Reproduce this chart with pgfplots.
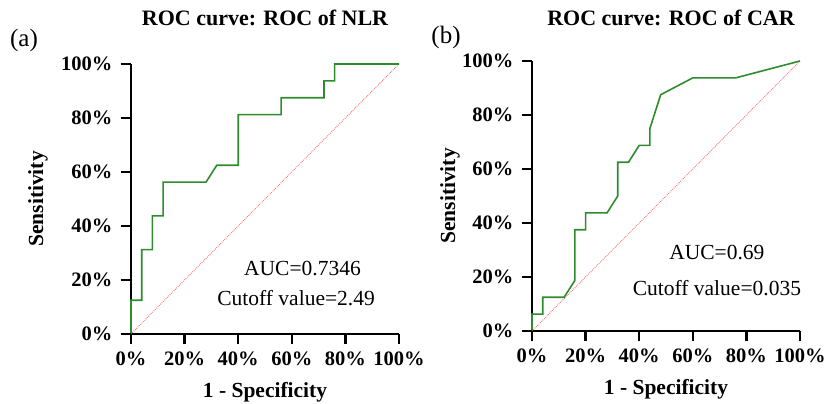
\documentclass[border=0pt]{standalone}
\usepackage{pgfplots}
\pgfplotsset{compat=1.18}
\usepackage{fontspec}
\setmainfont{Liberation Serif}
\definecolor{roc}{RGB}{46,140,46}
\definecolor{diag}{RGB}{250,120,120}
\pgfplotsset{
  rocaxis/.style={
    scale only axis, width=268bp, height=270bp,
    anchor=south west,
    xmin=0, xmax=100, ymin=0, ymax=100,
    axis lines*=left,
    axis line style={line width=2.5bp, black},
    xtick={0,20,40,60,80,100}, ytick={0,20,40,60,80,100},
    tick align=outside,
    major tick length=10bp,
    tick style={line width=2.5bp, black},
    xticklabels={0\%,20\%,40\%,60\%,80\%,100\%},
    yticklabels={0\%,20\%,40\%,60\%,80\%,100\%},
    ticklabel style={font=\bfseries\fontsize{20.5bp}{22bp}\selectfont},
    xticklabel style={anchor=north, yshift=-4bp},
    yticklabel style={anchor=east, xshift=-5bp},
    xlabel={1 - Specificity}, ylabel={Sensitivity},
    label style={font=\bfseries\fontsize{21.5bp}{24bp}\selectfont},
    xlabel style={at={(axis description cs:0.5,0)}, anchor=center, yshift=-58bp},
    clip=false,
  }
}
\begin{document}
\begin{tikzpicture}
% (a)
\begin{axis}[rocaxis, at={(131bp,70bp)},
  ylabel style={at={(axis description cs:-0.347,0.5)}, anchor=center}]
\addplot[diag, densely dotted, line width=0.9bp] coordinates {(0,0) (100,100)};
\addplot[roc, line width=1.6bp] coordinates {
(0,0) (0,12.5) (4,12.5) (4,31.25) (8,31.25) (8,43.75) (12,43.75) (12,56.25)
(28,56.25) (32,62.5) (40,62.5) (40,81.25) (56,81.25) (56,87.5) (72,87.5)
(72,93.75) (76,93.75) (76,100) (100,100)};
\node[font=\fontsize{21.5bp}{24bp}\selectfont] at (axis cs:64,24.4) {AUC=0.7346};
\node[font=\fontsize{21.5bp}{24bp}\selectfont] at (axis cs:61.6,13.3) {Cutoff value=2.49};
\end{axis}
% (b)
\begin{axis}[rocaxis, at={(532bp,73bp)},
  ylabel style={at={(axis description cs:-0.306,0.5)}, anchor=center}]
\addplot[diag, densely dotted, line width=0.9bp] coordinates {(0,0) (100,100)};
\addplot[roc, line width=1.6bp] coordinates {
(0,0) (0,6.25) (4,6.25) (4,12.5) (12,12.5) (16,18.75) (16,37.5) (20,37.5)
(20,43.75) (28,43.75) (32,50) (32,62.5) (36,62.5) (40,68.75) (44,68.75)
(44,75) (48,87.5) (60,93.75) (76,93.75) (100,100)};
\node[font=\fontsize{21.5bp}{24bp}\selectfont] at (axis cs:69,29) {AUC=0.69};
\node[font=\fontsize{21.5bp}{24bp}\selectfont] at (axis cs:69,16) {Cutoff value=0.035};
\end{axis}
% outward tick marks
\begin{scope}[x=1bp, y=1bp]
\draw[black, line width=2.5bp]
  (131,70)--(131,60) (184.6,70)--(184.6,60) (238.2,70)--(238.2,60)
  (291.8,70)--(291.8,60) (345.4,70)--(345.4,60) (399,70)--(399,60)
  (131,70)--(121,70) (131,124)--(121,124) (131,178)--(121,178)
  (131,232)--(121,232) (131,286)--(121,286) (131,340)--(121,340);
\draw[black, line width=2.5bp]
  (532,73)--(532,63) (585.6,73)--(585.6,63) (639.2,73)--(639.2,63)
  (692.8,73)--(692.8,63) (746.4,73)--(746.4,63) (800,73)--(800,63)
  (532,73)--(522,73) (532,127)--(522,127) (532,181)--(522,181)
  (532,235)--(522,235) (532,289)--(522,289) (532,343)--(522,343);
\end{scope}
\node[font=\bfseries\fontsize{22bp}{24bp}\selectfont] at (265bp,386bp) {ROC curve: ROC of NLR};
\node[font=\bfseries\fontsize{22bp}{24bp}\selectfont] at (671bp,386bp) {ROC curve: ROC of CAR};
\node[font=\fontsize{25bp}{28bp}\selectfont] at (24bp,364bp) {(a)};
\node[font=\fontsize{25bp}{28bp}\selectfont] at (446bp,367bp) {(b)};
\pgfresetboundingbox
\path (0,0) rectangle (825bp,404bp);
\end{tikzpicture}
\end{document}
